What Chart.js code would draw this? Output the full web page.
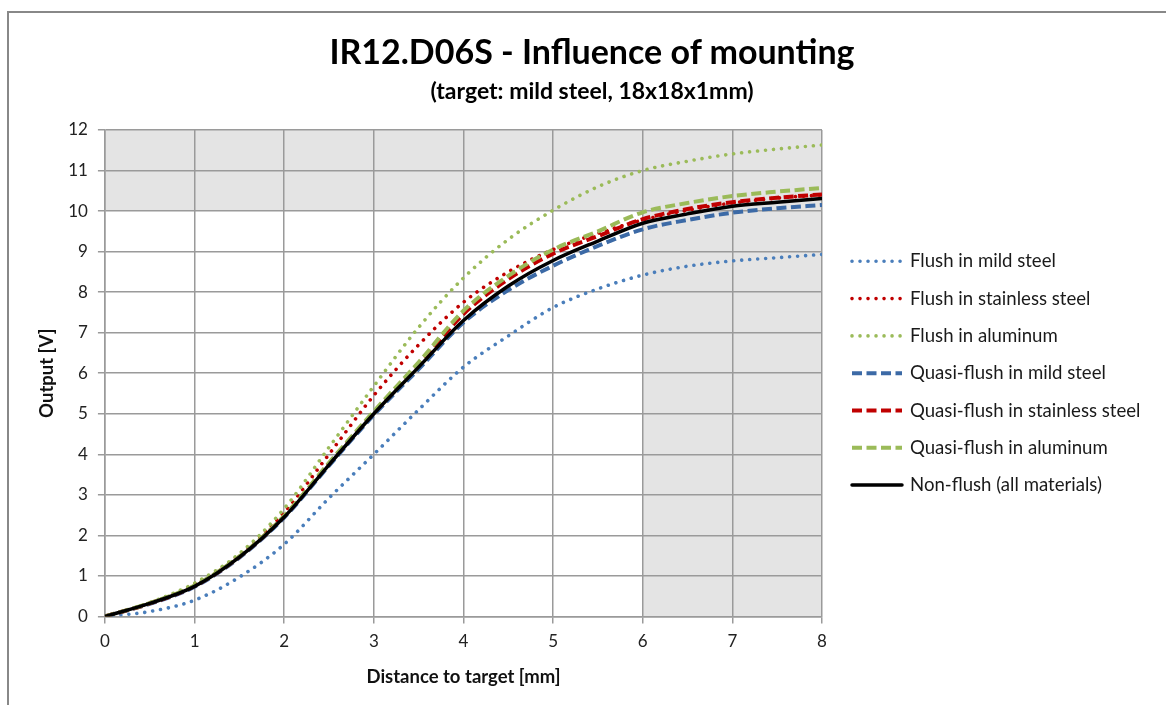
<!DOCTYPE html>
<html>
<head>
<meta charset="utf-8">
<script src="https://cdn.jsdelivr.net/npm/chart.js@4.4.1/dist/chart.umd.min.js"></script>
<style>
  html, body { margin: 0; padding: 0; background: #fff; overflow: hidden; width: 1166px; height: 705px; }
  #frame { position: absolute; left: 7px; top: 11px; width: 1300px; height: 900px; border: 2px solid #888; }
  #cropChart { position: absolute; left: 0; top: 0; }
  .ttl { position: absolute; left: 0; width: 1184px; text-align: center; font-family: Lato, "Open Sans", sans-serif; font-weight: bold; color: #000; white-space: nowrap; }
  #mainTitle { top: 31px; font-size: 34px; line-height: 40px; }
  #subTitle { top: 76px; font-size: 23px; line-height: 28px; }
</style>
</head>
<body>
<div id="frame"></div>
<canvas id="cropChart" width="1184" height="705"></canvas>
<div class="ttl" id="mainTitle">IR12.D06S - Influence of mounting</div>
<div class="ttl" id="subTitle">(target: mild steel, 18x18x1mm)</div>
<script>
// distance to target [mm]
const distance = [0, 0.5, 1, 1.5, 2, 2.5, 3, 3.5, 4, 4.5, 5, 5.5, 6, 6.5, 7, 7.5, 8];

// output [V] per mounting
const flushMild      = [0, 0.12, 0.40, 0.97, 1.78, 2.92, 4.00, 5.10, 6.15, 6.92, 7.62, 8.08, 8.42, 8.64, 8.77, 8.85, 8.93];
const flushStainless = [0, 0.33, 0.80, 1.52, 2.57, 4.00, 5.45, 6.70, 7.75, 8.50, 9.05, 9.45, 9.78, 10.02, 10.20, 10.32, 10.40];
const flushAlu       = [0, 0.34, 0.82, 1.55, 2.66, 4.17, 5.68, 7.13, 8.35, 9.30, 10.02, 10.60, 11.00, 11.23, 11.41, 11.53, 11.63];
const quasiMild      = [0, 0.31, 0.73, 1.45, 2.44, 3.72, 4.97, 6.10, 7.25, 8.05, 8.65, 9.14, 9.55, 9.78, 9.96, 10.07, 10.15];
const quasiStainless = [0, 0.32, 0.75, 1.47, 2.47, 3.77, 5.02, 6.20, 7.46, 8.32, 8.95, 9.38, 9.80, 10.05, 10.22, 10.33, 10.41];
const quasiAlu       = [0, 0.33, 0.76, 1.48, 2.48, 3.79, 5.06, 6.27, 7.54, 8.40, 9.05, 9.50, 9.97, 10.20, 10.37, 10.48, 10.57];
const nonFlush       = [0, 0.32, 0.74, 1.46, 2.45, 3.74, 5.00, 6.15, 7.30, 8.15, 8.78, 9.26, 9.70, 9.93, 10.12, 10.22, 10.31];

const seriesNames = ['Flush in mild steel', 'Flush in stainless steel', 'Flush in aluminum',
    'Quasi-flush in mild steel', 'Quasi-flush in stainless steel', 'Quasi-flush in aluminum',
    'Non-flush (all materials)'];
const seriesValues = [flushMild, flushStainless, flushAlu, quasiMild, quasiStainless, quasiAlu, nonFlush];

const xTicks = [0, 1, 2, 3, 4, 5, 6, 7, 8];
const yTicks = [0, 1, 2, 3, 4, 5, 6, 7, 8, 9, 10, 11, 12];

const FONT = 'Lato, "Open Sans", sans-serif';
const dotted = { borderWidth: 3.6, borderDash: [0.01, 8], borderCapStyle: 'round' };
const dashed = { borderWidth: 4, borderDash: [10, 4.5], borderCapStyle: 'butt' };
const solid = { borderWidth: 3.5, borderDash: [], borderCapStyle: 'round' };
const styles = [
    Object.assign({ borderColor: '#4a7ebb' }, dotted),
    Object.assign({ borderColor: '#c00000' }, dotted),
    Object.assign({ borderColor: '#9bbb59' }, dotted),
    Object.assign({ borderColor: '#3c6aa6' }, dashed),
    Object.assign({ borderColor: '#c00000' }, dashed),
    Object.assign({ borderColor: '#9bbb59' }, dashed),
    Object.assign({ borderColor: '#000000' }, solid)
];

const datasets = seriesNames.map((name, i) => Object.assign({
    label: name,
    data: distance.map((d, k) => ({ x: d, y: seriesValues[i][k] })),
    pointRadius: 0,
    fill: false,
    cubicInterpolationMode: 'monotone',
    order: seriesNames.length - i
}, styles[i]));

// grey zones: y 10..12 everywhere, x 6..8 everywhere
const shading = {
    id: 'shading',
    beforeDraw(chart) {
        const { ctx, chartArea: a, scales: { x, y } } = chart;
        ctx.save();
        ctx.fillStyle = '#e4e4e4';
        const y10 = y.getPixelForValue(10);
        ctx.fillRect(a.left, a.top, a.right - a.left, y10 - a.top);
        const x6 = x.getPixelForValue(6);
        ctx.fillRect(x6, y10, a.right - x6, a.bottom - y10);
        ctx.restore();
    }
};

// legend on the right, drawn from the dataset styles
const sideLegend = {
    id: 'sideLegend',
    afterDraw(chart) {
        const { ctx, chartArea: a } = chart;
        const mid = (a.top + a.bottom) / 2;
        const step = 37.3;
        ctx.save();
        chart.data.datasets.forEach((ds, i) => {
            const yy = mid + (i - 3) * step;
            ctx.strokeStyle = ds.borderColor;
            ctx.lineWidth = ds.borderWidth;
            ctx.lineCap = ds.borderCapStyle;
            ctx.setLineDash(ds.borderDash);
            ctx.beginPath();
            ctx.moveTo(a.right + 30, yy);
            ctx.lineTo(a.right + 80, yy);
            ctx.stroke();
            ctx.setLineDash([]);
            ctx.fillStyle = '#1a1a1a';
            ctx.font = '18.6px ' + FONT;
            ctx.textBaseline = 'middle';
            ctx.fillText(ds.label, a.right + 88, yy);
        });
        ctx.restore();
    }
};

const ctx = document.getElementById('cropChart').getContext('2d');
const mountChart = new Chart(ctx, {
    type: 'line',
    data: { datasets: datasets },
    plugins: [shading, sideLegend],
    options: {
        responsive: false,
        animation: false,
        layout: { padding: { left: 36, right: 362, top: 130, bottom: 17 } },
        plugins: {
            legend: { display: false },
            tooltip: { enabled: false }
        },
        scales: {
            x: {
                type: 'linear',
                min: 0,
                max: 8,
                afterBuildTicks(axis) { axis.ticks = xTicks.map(v => ({ value: v })); },
                grid: { color: '#9a9a9a', lineWidth: 1.5, tickLength: 7, tickColor: '#9a9a9a' },
                border: { color: '#9a9a9a', width: 1.5 },
                ticks: { color: '#222', font: { family: FONT, size: 17 }, padding: 8, maxRotation: 0 },
                title: {
                    display: true,
                    text: 'Distance to target [mm]',
                    color: '#111',
                    font: { family: FONT, size: 18.5, weight: 'bold' },
                    padding: { top: 6, bottom: 0 }
                }
            },
            y: {
                min: 0,
                max: 12,
                afterBuildTicks(axis) { axis.ticks = yTicks.map(v => ({ value: v })); },
                grid: { color: '#9a9a9a', lineWidth: 1.5, tickLength: 7, tickColor: '#9a9a9a' },
                border: { color: '#9a9a9a', width: 1.5 },
                ticks: { color: '#222', font: { family: FONT, size: 17 }, padding: 10 },
                title: {
                    display: true,
                    text: 'Output [V]',
                    color: '#111',
                    font: { family: FONT, size: 18.5, weight: 'bold' },
                    padding: { top: 0, bottom: 0 }
                }
            }
        }
    }
});
</script>
</body>
</html>
